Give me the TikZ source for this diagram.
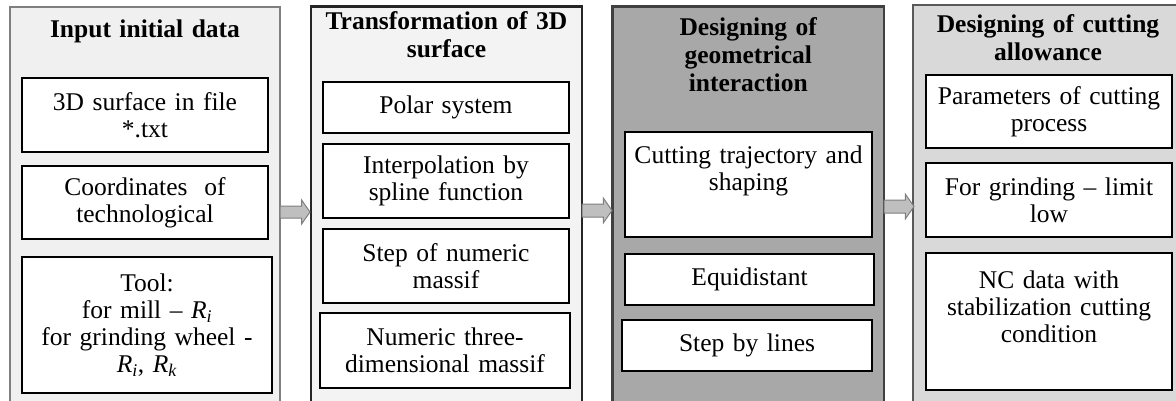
\documentclass[tikz,border=0pt]{standalone}
\usepackage{fontspec}
\setmainfont{Liberation Serif}
\usetikzlibrary{positioning,shapes.arrows}
\definecolor{inputfill}{HTML}{F0F0F0}
\definecolor{inputline}{HTML}{7F7F7F}
\definecolor{transfill}{HTML}{F3F3F3}
\definecolor{transline}{HTML}{262626}
\definecolor{geomfill}{HTML}{A8A8A8}
\definecolor{geomline}{HTML}{404040}
\definecolor{allowfill}{HTML}{D9D9D9}
\definecolor{allowline}{HTML}{595959}
\definecolor{arrowfill}{HTML}{BFBFBF}
\definecolor{arrowline}{HTML}{7F7F7F}
\newcommand{\Rsub}[1]{\textit{R}\textsubscript{\textit{#1}}}
\tikzset{
  panel/.style={draw, line width=2.8pt, inner sep=0pt, outer sep=0pt, anchor=north west},
  heading/.style={font=\fontsize{25.5}{28}\selectfont\bfseries, align=center, text width=250pt, inner sep=0pt},
  cell/.style={draw, fill=white, line width=1.5pt, align=center, inner sep=2pt, outer sep=0pt,
    anchor=north west, font=\fontsize{25.5}{27}\selectfont},
  flow/.style={single arrow, draw=arrowline, fill=arrowfill, line width=1pt, inner xsep=0pt, outer sep=0pt,
    single arrow head extend=6pt, single arrow tip angle=110, minimum height=30pt, anchor=west}
}
\begin{document}
\begin{tikzpicture}[x=1pt,y=-1pt]
  \useasboundingbox (0,0) rectangle (1176,400);
  \clip (0,0) rectangle (1176,400);
  % panels
  \node[panel, draw=inputline, fill=inputfill, minimum width=270pt, minimum height=400pt] (p1) at (10,7) {};
  \node[panel, draw=transline, fill=transfill, minimum width=271pt, minimum height=400pt] (p2) at (311,6.5) {};
  \node[panel, draw=geomline, fill=geomfill, minimum width=271.5pt, minimum height=400pt] (p3) at (612.5,6.5) {};
  \node[panel, draw=allowline, fill=allowfill, minimum width=270pt, minimum height=400pt] (p4) at (913,5) {};
  % headings
  \node[heading, below=13pt of p1.north] (t1) {Input initial data};
  \node[heading, below=5pt of p2.north] (t2) {Transformation of 3D\\surface};
  \node[heading, below=11pt of p3.north] (t3) {Designing of\\geometrical\\interaction};
  \node[heading, below=9pt of p4.north] (t4) {Designing of cutting\\allowance};
  % input initial data
  \node[cell, text width=242pt, minimum width=246pt, minimum height=74pt] (surface) at (22,78) {3D surface in file\\{*}.txt};
  \node[cell, text width=242pt, minimum width=246pt, minimum height=73pt] (coords) at (22,166) {Coordinates~ of\\technological};
  \node[cell, text width=246pt, minimum width=250pt, minimum height=136pt] (tool) at (22,257)
    {Tool:\\for mill – \Rsub{i}\\for grinding wheel -\\\Rsub{i}, \Rsub{k}};
  % transformation
  \node[cell, text width=242pt, minimum width=246pt, minimum height=51pt] (polar) at (323,82) {Polar system};
  \node[cell, text width=242pt, minimum width=246pt, minimum height=74pt] (spline) at (323,144) {Interpolation by\\spline function};
  \node[cell, text width=242pt, minimum width=246pt, minimum height=74pt] (stepnum) at (323,229) {Step of numeric\\massif};
  \node[cell, text width=246pt, minimum width=250pt, minimum height=75pt] (massif) at (320,313) {Numeric three-\\dimensional massif};
  % geometrical interaction
  \node[cell, text width=243pt, minimum width=247pt, minimum height=105pt, text depth=60pt] (traj) at (625,132)
    {Cutting trajectory and\\shaping};
  \node[cell, text width=245pt, minimum width=249pt, minimum height=51pt] (equi) at (625,254) {Equidistant};
  \node[cell, text width=246pt, minimum width=250pt, minimum height=51pt] (steplines) at (622,320) {Step by lines};
  % cutting allowance
  \node[cell, text width=242pt, minimum width=246pt, minimum height=73pt] (params) at (926,75) {Parameters of cutting\\process};
  \node[cell, text width=242pt, minimum width=246pt, minimum height=74pt] (grind) at (926,163) {For grinding – limit\\low};
  \node[cell, text width=242pt, minimum width=246pt, minimum height=137pt, text depth=84pt] (ncdata) at (926,253)
    {NC data with\\stabilization cutting\\condition};
  % arrows between panels
  \node[flow, inner ysep=5.5pt] (a12) at ([yshift=-5pt]p1.east) {};
  \node[flow, inner ysep=6pt] (a23) at ([yshift=-4pt]p2.east) {};
  \node[flow, inner ysep=6pt] (a34) at (p3.east) {};
\end{tikzpicture}
\end{document}
